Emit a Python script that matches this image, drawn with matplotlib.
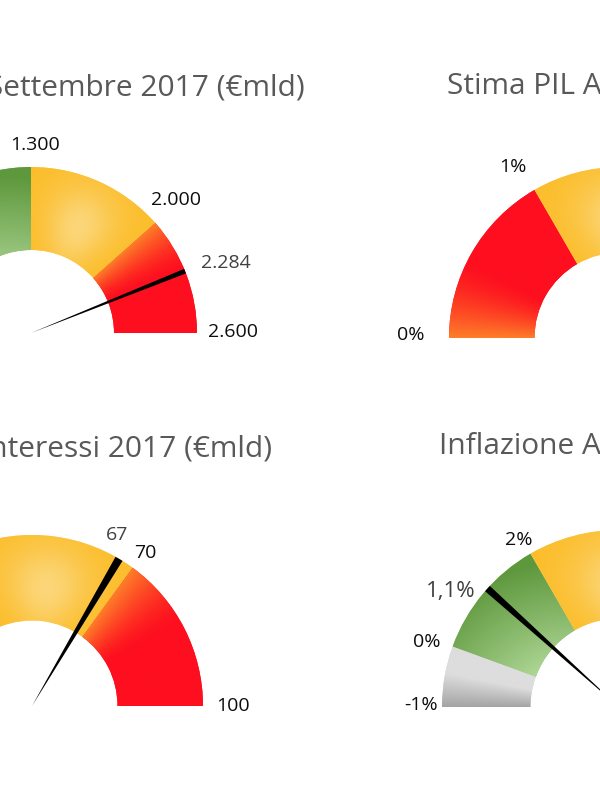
import numpy as np
import matplotlib
matplotlib.use("Agg")
import matplotlib.pyplot as plt
from matplotlib.patches import Wedge
from matplotlib.colors import to_rgb

# ---------------- data ----------------
titles = ["Debito Pubblico Settembre 2017 (€mld)",
          "Stima PIL Anno 2017 (%)",
          "Spesa per Interessi 2017 (€mld)",
          "Inflazione Anno 2017 (%)"]

debito_bounds = [0, 1300, 2000, 2600]
debito_bands = ["green", "yellow", "red"]
debito_needle = 2284
debito_label_values = [1300, 2000, 2284, 2600]
debito_label_texts = ["1.300", "2.000", "2.284", "2.600"]

pil_bounds = [0, 1, 2, 3]
pil_bands = ["red", "yellow", "green"]
pil_needle = 1.5
pil_label_values = [0, 1]
pil_label_texts = ["0%", "1%"]

interessi_bounds = [0, 38, 70, 100]
interessi_bands = ["green", "yellow", "red"]
interessi_needle = 67
interessi_label_values = [67, 70, 100]
interessi_label_texts = ["67", "70", "100"]

inflazione_bounds = [-1, 0, 2, 5, 8]
inflazione_bands = ["gray", "green", "yellow", "red"]
inflazione_needle = 1.1
inflazione_label_values = [-1, 0, 1.1, 2]
inflazione_label_texts = ["-1%", "0%", "1,1%", "2%"]

gauges = [
    (titles[0], debito_bounds, debito_bands, debito_needle, debito_label_values, debito_label_texts),
    (titles[1], pil_bounds, pil_bands, pil_needle, pil_label_values, pil_label_texts),
    (titles[2], interessi_bounds, interessi_bands, interessi_needle, interessi_label_values, interessi_label_texts),
    (titles[3], inflazione_bounds, inflazione_bands, inflazione_needle, inflazione_label_values, inflazione_label_texts),
]

# ---------------- layout (pixels, y from top) ----------------
W, H = 600, 800
layout = [
    dict(cx=31, cy=333, R=166, nw=1.7, title=(305, 95, "right"), needle_fs=14,
         nudges=[(4, 0), (0, -4), (6, 6), (0, -1)]),
    dict(cx=620, cy=338, R=171, nw=2.2, title=(447, 93, "left"), needle_fs=14,
         nudges=[(-14, -3), (-9, -2)]),
    dict(cx=32, cy=706, R=171, nw=2.7, title=(272, 457, "right"), needle_fs=14,
         nudges=[(-14, -3), (-2, 6), (2, 0)]),
    dict(cx=619, cy=707, R=177, nw=2.3, title=(439, 453, "left"), needle_fs=16,
         nudges=[(7, -2), (-2, 4), (-16, 22), (0, 7)]),
]
RIN = 0.5
FONT = ["Open Sans", "DejaVu Sans"]
TITLE_COLOR = "#595959"
LABEL_COLOR = "#0d0d0d"
NEEDLE_LABEL_COLOR = "#404040"
TITLE_FS = 21.5
LABEL_FS = 14


def band_colors(kind, u, v):
    if kind == "yellow":
        base = np.array(to_rgb("#fbbd2a")); hi = np.array(to_rgb("#fcd679"))
        w = np.exp(-((u - 0.5) / 0.33) ** 2) * np.exp(-((v - 0.4) / 0.5) ** 2)
    elif kind == "red":
        base = np.array(to_rgb("#fe0f1f")); hi = np.array(to_rgb("#fd7e29"))
        w = np.clip(1 - u / 0.45, 0, 1) ** 1.5
    elif kind == "green":
        base = np.array(to_rgb("#5e983d")); hi = np.array(to_rgb("#afd796"))
        w = np.clip((1 - v) * 0.75 + (1 - u) * 0.35 - 0.1, 0, 1)
    else:  # gray
        base = np.array(to_rgb("#a4a4a4")); hi = np.array(to_rgb("#dddddd"))
        w = np.clip(u / 0.55, 0, 1)
    return base * (1 - w[..., None]) + hi * w[..., None]


fig = plt.figure(figsize=(W / 100, H / 100), dpi=100)
fig.patch.set_facecolor("white")
renderer = fig.canvas.get_renderer()

XL, XR, YB, YT = -1.5, 1.5, -0.25, 1.75
nx, ny = 700, 350
gx = np.linspace(-1, 1, nx)
gy = np.linspace(0, 1, ny)
GX, GY = np.meshgrid(gx, gy)
GR = np.hypot(GX, GY)
GT = np.degrees(np.arctan2(GY, GX))

for (title, bounds, bands, needle, lvals, ltexts), L in zip(gauges, layout):
    R = L["R"]
    left = (L["cx"] + XL * R) / W
    bottom = ((H - L["cy"]) + YB * R) / H
    ax = fig.add_axes([left, bottom, (XR - XL) * R / W, (YT - YB) * R / H])
    ax.set_xlim(XL, XR)
    ax.set_ylim(YB, YT)
    ax.axis("off")

    vmin, vmax = bounds[0], bounds[-1]
    ang = lambda val: 180.0 * (1 - (val - vmin) / (vmax - vmin))

    for i, kind in enumerate(bands):
        a0, a1 = ang(bounds[i]), ang(bounds[i + 1])  # a0 > a1
        u = np.clip((a0 - GT) / (a0 - a1), 0, 1)
        v = np.clip((GR - RIN) / (1 - RIN), 0, 1)
        img = band_colors(kind, u, v)
        wedge = Wedge((0, 0), 1, a1, a0, width=1 - RIN, transform=ax.transData)
        base = Wedge((0, 0), 1, a1, a0, width=1 - RIN,
                     facecolor=band_colors(kind, np.array([0.5]), np.array([0.5]))[0],
                     edgecolor="none", zorder=1)
        ax.add_patch(base)
        im = ax.imshow(img, extent=(-1, 1, 0, 1), origin="lower",
                       interpolation="bilinear", zorder=2, aspect="auto")
        im.set_clip_path(wedge)

    an = ang(needle)
    ax.add_patch(Wedge((0, 0), 1.0, an - L["nw"] / 2, an + L["nw"] / 2,
                       facecolor="black", edgecolor="none", zorder=5))

    tx, ty, tha = L["title"]
    ax.text((tx - L["cx"]) / R, (L["cy"] - ty) / R, title, ha=tha, va="baseline",
            fontsize=TITLE_FS, color=TITLE_COLOR, family=FONT, clip_on=False)

    gap = 11
    hh = 11.5
    for (val, txt), (ndx, ndy) in zip(zip(lvals, ltexts), L["nudges"]):
        a = np.radians(ang(val))
        is_needle = val == needle
        col = NEEDLE_LABEL_COLOR if is_needle else LABEL_COLOR
        fs = L["needle_fs"] if is_needle else LABEL_FS
        t = ax.text(0, 0, txt, ha="center", va="center", fontsize=fs,
                    color=col, family=FONT, clip_on=False)
        bb = t.get_window_extent(renderer)
        hw = bb.width / 2
        c, s = abs(np.cos(a)), abs(np.sin(a))
        d = min(hw / c if c > 1e-6 else np.inf, hh / s if s > 1e-6 else np.inf)
        r = 1 + (gap + d) / R
        t.set_position((r * np.cos(a) + ndx / R, r * np.sin(a) - ndy / R))

fig.savefig("out.png", dpi=100, facecolor="white")
